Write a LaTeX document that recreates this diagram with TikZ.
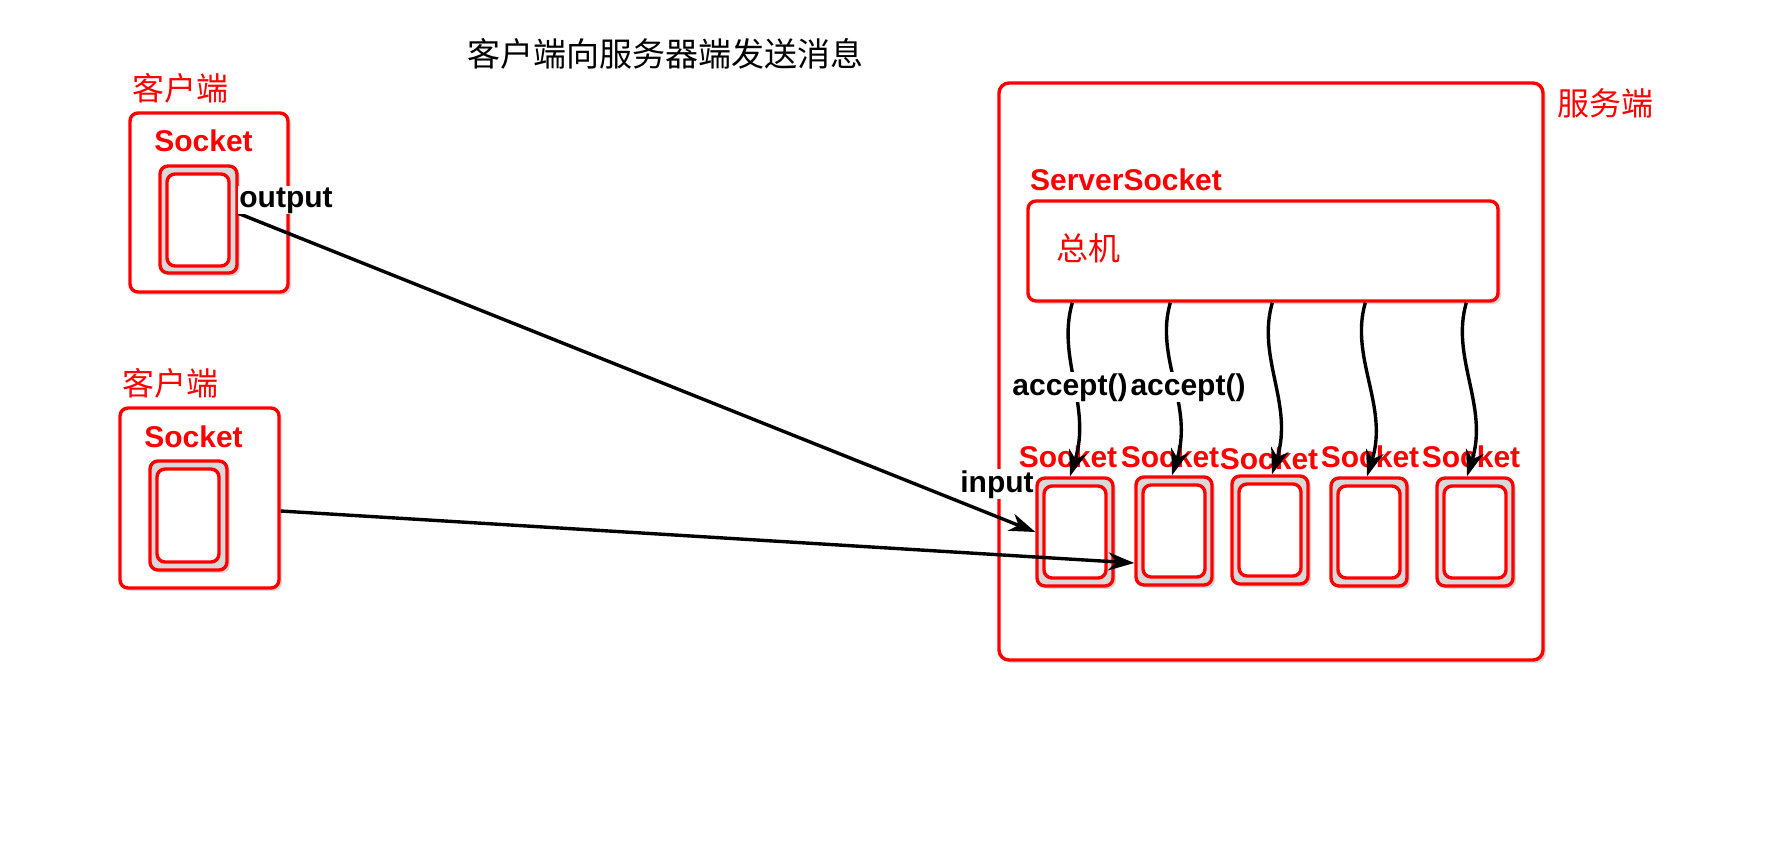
\documentclass[tikz,border=0pt]{standalone}
\usepackage{fontspec}
\setmainfont{Liberation Sans}
\newfontfamily\cjk{Noto Sans CJK SC}
\usetikzlibrary{arrows.meta,shadows,fit}
\begin{document}
\begin{tikzpicture}[x=0.5pt,y=-0.5pt,
  redbox/.style={draw=red, line width=1.7pt, rounded corners=4pt, fill=white, inner sep=0pt,
     drop shadow={opacity=0.3, shadow xshift=1.5pt, shadow yshift=-1.5pt}},
  sockout/.style={redbox, fill=gray!30},
  sockin/.style={draw=red, line width=1.7pt, rounded corners=4pt, fill=white, inner sep=0pt},
  cjklabel/.style={text=red, font=\cjk\fontsize{16}{19}\selectfont, inner sep=0pt},
  socklabel/.style={text=red, font=\bfseries\fontsize{15}{18}\selectfont, inner sep=0pt, anchor=base},
  blacklabel/.style={text=black, font=\bfseries\fontsize{15}{18}\selectfont, fill=white, inner sep=0.5pt, anchor=base},
  arr/.style={draw=black, line width=1.7pt, -{Stealth[length=13pt,width=9pt,inset=4pt]}},
]
\useasboundingbox (0,0) rectangle (1792,848);

% title
\node[cjklabel, text=black, font=\cjk\fontsize{16.5}{20}\selectfont] (title) at (665,54) {客户端向服务器端发送消息};

% client 1
\node[cjklabel] (l1) at (180,88) {客户端};
\coordinate (c1a) at (130,113); \coordinate (c1b) at (288,292);
\node[redbox, fit=(c1a)(c1b)] (c1) {};
\node[socklabel] (c1t) at (203.5,151) {Socket};
\coordinate (c1sa) at (160,166); \coordinate (c1sb) at (237,273);
\node[sockout, fit=(c1sa)(c1sb)] (c1s) {};
\coordinate (c1ia) at (167,174); \coordinate (c1ib) at (229,266);
\node[sockin, fit=(c1ia)(c1ib)] (c1i) {};

% client 2
\node[cjklabel] (l2) at (170,383) {客户端};
\coordinate (c2a) at (120,408); \coordinate (c2b) at (279,588);
\node[redbox, fit=(c2a)(c2b)] (c2) {};
\node[socklabel] (c2t) at (193.5,447) {Socket};
\coordinate (c2sa) at (150,461); \coordinate (c2sb) at (227,570);
\node[sockout, fit=(c2sa)(c2sb)] (c2s) {};
\coordinate (c2ia) at (157,469); \coordinate (c2ib) at (219,562);
\node[sockin, fit=(c2ia)(c2ib)] (c2i) {};

% server
\coordinate (sva) at (999,83); \coordinate (svb) at (1543,660);
\node[redbox, rounded corners=5pt, fit=(sva)(svb)] (srv) {};
\node[cjklabel] (l3) at (1605,103) {服务端};
\node[socklabel] (sst) at (1126,190) {ServerSocket};
\coordinate (hba) at (1028,201); \coordinate (hbb) at (1498,301);
\node[redbox, fit=(hba)(hbb)] (hub) {};
\node[cjklabel] (zj) at (1088,248) {总机};

\foreach \i/\xa/\ya in {1/1037/478, 2/1136/477, 3/1232/476, 4/1331/478, 5/1437/478}{
  \coordinate (s\i a) at (\xa,\ya);
  \coordinate (s\i b) at (\xa+76,\ya+108);
  \node[sockout, fit=(s\i a)(s\i b)] (s\i) {};
  \coordinate (s\i ia) at (\xa+7,\ya+8);
  \coordinate (s\i ib) at (\xa+69,\ya+100);
  \node[sockin, fit=(s\i ia)(s\i ib)] (s\i i) {};
}
\node[socklabel] (t1) at (1068,467) {Socket};
\node[socklabel] (t2) at (1170,467) {Socket};
\node[socklabel] (t3) at (1269,469) {Socket};
\node[socklabel] (t4) at (1370,467) {Socket};
\node[socklabel] (t5) at (1471,467) {Socket};

% accept arrows
\draw[arr] ([xshift=23pt]hub.south west) .. controls +(-16,55) and +(22,-70) .. ([xshift=-2.5pt]s1.north);
\draw[arr] ([xshift=72pt]hub.south west) .. controls +(-16,55) and +(22,-70) .. ([xshift=-1pt]s2.north);
\draw[arr] ([xshift=123pt]hub.south west) .. controls +(-16,55) and +(22,-70) .. ([xshift=1pt]s3.north);
\draw[arr] ([xshift=169.5pt]hub.south west) .. controls +(-16,55) and +(22,-70) .. ([xshift=-1pt]s4.north);
\draw[arr] ([xshift=220pt]hub.south west) .. controls +(-16,55) and +(22,-70) .. ([xshift=-4pt]s5.north);

\node[blacklabel] (ac1) at (1070,395) {accept()};
\node[blacklabel] (ac2) at (1188,395) {accept()};

% client -> server arrows
\draw[arr] ([yshift=3pt]c1s.east) -- (s1.west);
\draw[arr] ([yshift=-6.5pt]c2.east) -- ([yshift=-16pt]s2.west);

\node[blacklabel] (outl) at (286,207) {output};
\node[blacklabel] (inl) at (997,492) {input};
\end{tikzpicture}
\end{document}
